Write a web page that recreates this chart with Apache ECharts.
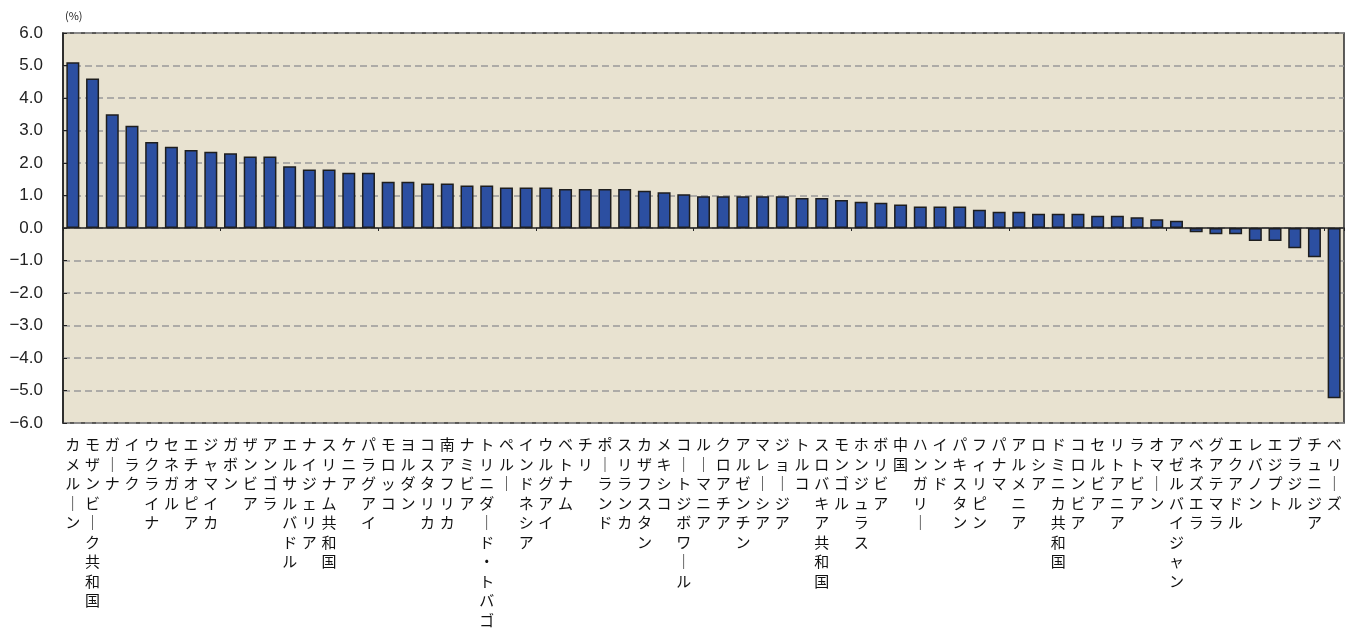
<!DOCTYPE html>
<html>
<head>
<meta charset="utf-8">
<script src="https://cdn.jsdelivr.net/npm/echarts@6/dist/echarts.min.js"></script>
<style>html,body{margin:0;padding:0;background:#fff}#c{width:1360px;height:630px}</style>
</head>
<body>
<div id="c"></div>
<script>
const categories = ["カメルーン","モザンビーク共和国","ガーナ","イラク","ウクライナ","セネガル","エチオピア","ジャマイカ","ガボン","ザンビア","アンゴラ","エルサルバドル","ナイジェリア","スリナム共和国","ケニア","パラグアイ","モロッコ","ヨルダン","コスタリカ","南アフリカ","ナミビア","トリニダード・トバゴ","ペルー","インドネシア","ウルグアイ","ベトナム","チリ","ポーランド","スリランカ","カザフスタン","メキシコ","コートジボワール","ルーマニア","クロアチア","アルゼンチン","マレーシア","ジョージア","トルコ","スロバキア共和国","モンゴル","ホンジュラス","ボリビア","中国","ハンガリー","インド","パキスタン","フィリピン","パナマ","アルメニア","ロシア","ドミニカ共和国","コロンビア","セルビア","リトアニア","ラトビア","オマーン","アゼルバイジャン","ベネズエラ","グアテマラ","エクアドル","レバノン","エジプト","ブラジル","チュニジア","ベリーズ"];
const values = [5.1,4.6,3.5,3.15,2.65,2.5,2.4,2.35,2.3,2.2,2.2,1.9,1.8,1.8,1.7,1.7,1.42,1.42,1.37,1.37,1.31,1.31,1.25,1.25,1.25,1.2,1.2,1.2,1.2,1.15,1.1,1.04,0.98,0.98,0.98,0.98,0.98,0.92,0.92,0.86,0.81,0.78,0.72,0.66,0.66,0.66,0.56,0.5,0.5,0.44,0.44,0.44,0.38,0.38,0.33,0.27,0.22,-0.13,-0.19,-0.19,-0.4,-0.4,-0.62,-0.9,-5.24];
const yTicks = {min:-6, max:6, interval:1};
const unitLabel = "(%)";

const chart = echarts.init(document.getElementById('c'), null, {renderer:'canvas'});
const vert = s => Array.from(s.replace(/ー/g,'｜')).join('\n');
chart.setOption({
  animation:false,
  backgroundColor:'#ffffff',
  textStyle:{fontFamily:'"Noto Sans CJK JP", "Noto Sans", sans-serif'},
  graphic:[{type:'text', left:65, top:10, style:{text:unitLabel, fontSize:11, fill:'#222', fontFamily:'"Noto Sans CJK JP", sans-serif'}}],
  grid:{left:63, right:16, top:33, bottom:207, show:true, backgroundColor:'#E8E2D0', borderColor:'#2a2a2a', borderWidth:1.5},
  xAxis:[{
    type:'category', data:categories, position:'bottom',
    axisLine:{show:false, onZero:false}, axisTick:{show:false},
    axisLabel:{interval:0, formatter:vert, fontSize:15, lineHeight:19.5, color:'#111', margin:12, verticalAlign:'top',
      fontFamily:'"Noto Sans CJK JP", sans-serif'}
  },{
    type:'category', data:categories, position:'top',
    axisLine:{show:true, onZero:true, lineStyle:{color:'#222', width:1.5}},
    axisTick:{show:true, inside:true, length:3, lineStyle:{color:'#222', width:1}},
    axisLabel:{show:false}
  }],
  yAxis:{
    type:'value', min:yTicks.min, max:yTicks.max, interval:yTicks.interval,
    axisLine:{show:true, lineStyle:{color:'#222', width:1.5}},
    axisTick:{show:true, inside:true, length:4, lineStyle:{color:'#222'}},
    axisLabel:{formatter:v=>v.toFixed(1).replace('-','\u2212'), fontSize:17, color:'#222', margin:20, fontFamily:'Arial, "Liberation Sans", sans-serif'},
    splitLine:{show:true, lineStyle:{color:'#999', type:[7,4], width:1.5}}
  },
  series:[{
    type:'bar', data:values, xAxisIndex:0, barCategoryGap:'34%',
    itemStyle:{color:'#2C4FA1', borderColor:'#1e1e1e', borderWidth:1.5}
  }]
});
</script>
</body>
</html>
